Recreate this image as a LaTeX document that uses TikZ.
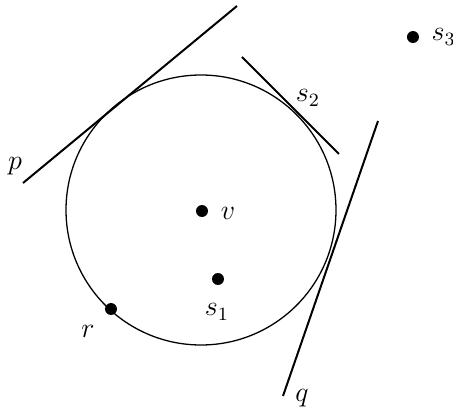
\documentclass[tikz,border=0pt]{standalone}
\usetikzlibrary{positioning}

\begin{document}
\begin{tikzpicture}[
  x=0.015cm,y=-0.015cm,
  pt/.style={circle,fill,inner sep=0pt,minimum size=12*0.015cm},
  tline/.style={line width=0.85pt},
  lab/.style={inner sep=1pt,font=\large}
]
  \useasboundingbox (0,0) rectangle (453,413);
  \draw[line width=0.55pt] (201,210) circle[radius=135];

  \coordinate (P1) at (23,183);
  \coordinate (P2) at (237,6);
  \coordinate (T1) at (242,57);
  \coordinate (T2) at (339,154);
  \coordinate (Q1) at (378,121);
  \coordinate (Q2) at (283,396);
  \draw[tline] (P1) -- (P2);
  \draw[tline] (T1) -- (T2);
  \draw[tline] (Q1) -- (Q2);

  \node[pt] (V) at (202,211) {};
  \node[pt] (S1) at (218,279) {};
  \node[pt] (R) at (111,309) {};
  \node[pt] (S3) at (413,37) {};

  \node[lab] at (228,213) {$v$};
  \node[lab] at (217,312) {$s_1$};
  \node[lab] at (308,98) {$s_2$};
  \node[lab,right=4pt of S3] {$s_3$};
  \node[lab] at (88,331) {$r$};
  \node[lab] at (15,166) {$p$};
  \node[lab] at (302,398) {$q$};
\end{tikzpicture}
\end{document}
